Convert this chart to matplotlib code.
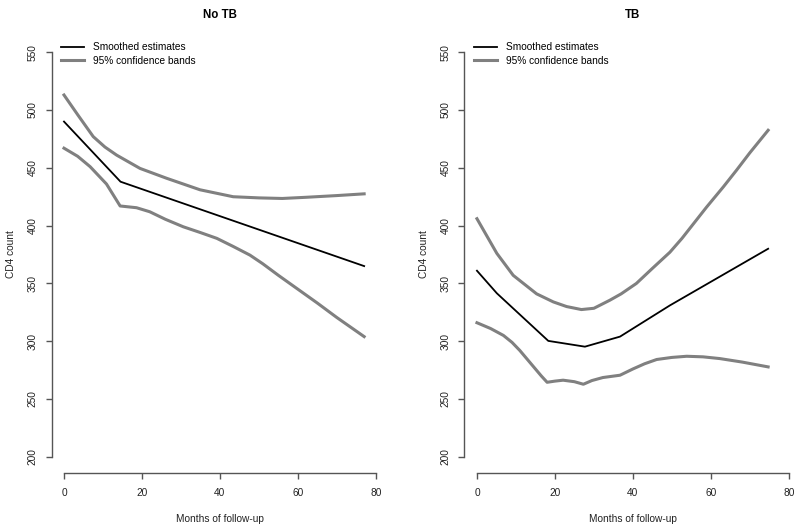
import matplotlib.pyplot as plt

plt.rcParams['font.family'] = ['Liberation Sans', 'DejaVu Sans']

# No TB panel
notb_est_x = [0, 14.5, 77]
notb_est = [490, 438, 365]
notb_upper_x = [0, 3.5, 7.5, 10.5, 13.5, 19.5, 26.3, 34.9, 43.4, 50, 56, 62, 70, 77]
notb_upper = [513, 496, 477, 468, 461, 449.5, 441, 431, 425, 424, 423.5, 424.5, 426, 427.5]
notb_lower_x = [0, 3.5, 6.7, 10.9, 14.4, 18.6, 22, 26, 30.6, 35, 39.2, 43.4, 47.7,
                51, 55, 60, 65, 70, 77]
notb_lower = [467, 460, 451, 436, 417, 415.5, 412, 405.5, 399, 394, 389, 382, 374.5,
              367, 357, 345, 333, 320.5, 304]

# TB panel
tb_est_x = [0, 5.1, 18.3, 27.7, 36.7, 49.5, 74.7]
tb_est = [361, 341.5, 300.3, 295.3, 304, 331, 380]
tb_upper_x = [0, 5.1, 9.3, 15.3, 19.6, 23, 26.8, 30, 34.1, 37, 40.9, 45, 49.5,
              52.6, 58.9, 63.2, 66.6, 70, 74.7]
tb_upper = [406, 376, 357, 341, 334, 330, 327.4, 328.5, 335.5, 341, 350, 363, 377,
            389, 416, 433.5, 448, 463, 482.5]
tb_lower_x = [0, 3.5, 6.8, 9, 11, 14, 16.5, 18, 20, 22.1, 25, 27.3, 29.5, 32.3,
              36.7, 40, 43, 46.1, 50, 53.8, 58, 62.3, 68, 74.7]
tb_lower = [316, 311, 305, 299, 292, 280, 270, 264.5, 265.5, 266.3, 265, 262.8, 266,
            268.6, 270.6, 276, 280.5, 284.2, 286, 287, 286.5, 285, 282, 277.8]

x_ticks = [0, 20, 40, 60, 80]
y_ticks = [200, 250, 300, 350, 400, 450, 500, 550]

band_col = '#808080'
axis_col = '#555555'
fs = 7.3

fig = plt.figure(figsize=(8, 5.3), dpi=100)
ax1 = fig.add_axes([0.0644, 0.1075, 0.421, 0.8245])
ax2 = fig.add_axes([0.5806, 0.1075, 0.421, 0.8245])

panels = [
    (ax1, 'No TB', notb_est_x, notb_est, notb_upper_x, notb_upper, notb_lower_x, notb_lower),
    (ax2, 'TB', tb_est_x, tb_est, tb_upper_x, tb_upper, tb_lower_x, tb_lower),
]

for ax, title, ex, ey, ux, uy, lx, ly in panels:
    ax.plot(ex, ey, color='black', lw=1.3, label='Smoothed estimates')
    ax.plot(ux, uy, color=band_col, lw=2.2, label='95% confidence bands')
    ax.plot(lx, ly, color=band_col, lw=2.2)

    ax.set_xlim(-3.2, 83.2)
    ax.set_ylim(186, 564)
    ax.set_xticks(x_ticks)
    ax.set_yticks(y_ticks)
    ax.set_yticklabels([str(v) for v in y_ticks], rotation=90, va='center')
    for s in ['top', 'right']:
        ax.spines[s].set_visible(False)
    ax.spines['bottom'].set_bounds(0, 80)
    ax.spines['left'].set_bounds(200, 550)
    for s in ['bottom', 'left']:
        ax.spines[s].set_color(axis_col)
        ax.spines[s].set_linewidth(1.0)
    ax.tick_params(axis='both', colors=axis_col, labelcolor='#222222',
                   labelsize=fs, length=4, width=1.0)
    ax.tick_params(axis='x', pad=7)
    ax.tick_params(axis='y', pad=6)

    ax.set_xlabel('Months of follow-up', fontsize=fs, color='#222222', labelpad=11)
    ax.set_ylabel('CD4 count', fontsize=fs, color='#222222', labelpad=8.5)
    ax.set_title(title, fontsize=8.3, fontweight='bold', pad=13)

    ax.legend(loc='upper left', bbox_to_anchor=(0.015, 0.995), frameon=False,
              fontsize=fs, handlelength=2.3, handletextpad=0.9,
              labelspacing=0.35, borderaxespad=0.0)

fig.savefig('out.png', dpi=100)
